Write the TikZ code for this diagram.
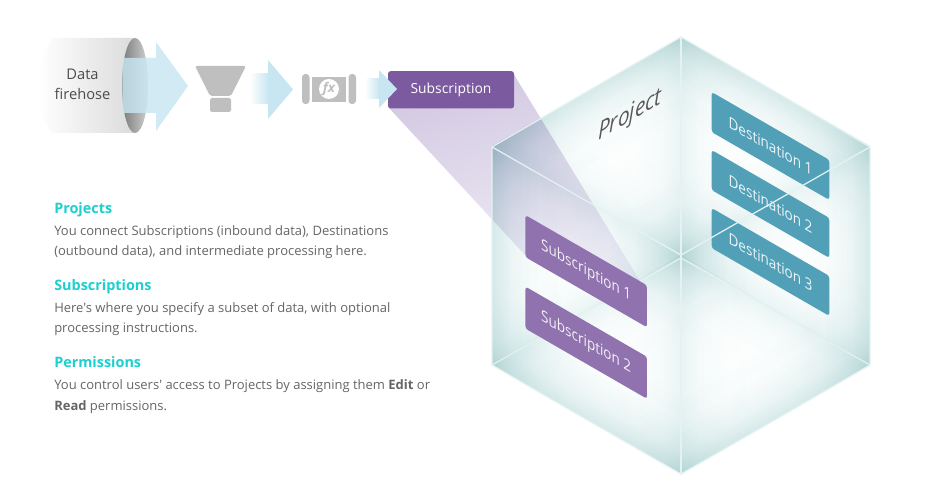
\documentclass[tikz,border=0pt]{standalone}
\usepackage{fontspec}
\setmainfont{Open Sans}[Ligatures=TeXOff]
\definecolor{arrowblue}{HTML}{C8E6F1}
\definecolor{iconGray}{HTML}{BFBFBF}
\definecolor{subPurple}{HTML}{8F72AE}
\definecolor{boxPurple}{HTML}{7C5AA0}
\definecolor{destBlue}{HTML}{52A0B8}
\definecolor{headTeal}{HTML}{1DCFCF}
\definecolor{bodyGray}{HTML}{666666}
\definecolor{edgeLine}{HTML}{E4F2F2}
\definecolor{beamA}{HTML}{D3C9E2}
\definecolor{beamB}{HTML}{F1EEF7}
\definecolor{glassEdge}{HTML}{EAF4F4}
\pgfdeclarehorizontalshading{edgefadeL}{100bp}{color(0bp)=(glassEdge); color(25bp)=(glassEdge); color(38bp)=(glassEdge!45!white); color(55bp)=(glassEdge!12!white); color(75bp)=(white); color(100bp)=(white)}
\pgfdeclarehorizontalshading{edgefadeR}{100bp}{color(0bp)=(white); color(25bp)=(white); color(45bp)=(glassEdge!12!white); color(62bp)=(glassEdge!45!white); color(75bp)=(glassEdge); color(100bp)=(glassEdge)}
\tikzset{
  x=0.75pt,y=-0.75pt,
  stripbox/.style={blend mode=multiply,draw=none},
  isobox/.style={rectangle,rounded corners=2pt,inner sep=0pt,font=\fontsize{11.7pt}{14pt}\selectfont,cm={0.866,-0.5,0,1,(0,0)}},
  subbox/.style={isobox,fill=subPurple,text=white!90!subPurple,minimum width=105.2pt,minimum height=31.5pt},
  destbox/.style={isobox,fill=destBlue,text=white!90!destBlue,minimum width=101.8pt,minimum height=30pt},
  headline/.style={anchor=base west,inner sep=0pt,text=headTeal,font=\fontsize{10.8pt}{13pt}\selectfont\bfseries},
  bodyline/.style={anchor=base west,inner sep=0pt,text=bodyGray,font=\fontsize{9.75pt}{12pt}\selectfont},
  edgeline/.style={draw=edgeLine,line width=0.9pt},
  arrowfill/.style={fill=arrowblue,draw=none},
  icon/.style={fill=iconGray,draw=none}
}
\newcommand{\glassface}[6]{%
  \pgfmathsetmacro{\ma}{#3/50}\pgfmathsetmacro{\mb}{-#4/50}%
  \pgfmathsetmacro{\mc}{#5/50}\pgfmathsetmacro{\md}{-#6/50}%
  \begin{scope}[transform canvas={cm={\ma,\mb,\mc,\md,(#1,#2)}}]
    \shade[stripbox,shading=edgefadeL] (-50,-50) rectangle (-10,50);
    \shade[stripbox,shading=edgefadeR] (10,-50) rectangle (50,50);
    \shade[stripbox,shading=edgefadeR,shading angle=90] (-50,-50) rectangle (50,-10);
    \shade[stripbox,shading=edgefadeL,shading angle=90] (-50,10) rectangle (50,50);
  \end{scope}}
\begin{document}
\begin{tikzpicture}
\useasboundingbox (0,0) rectangle (929,498);
\fill[white] (0,0) rectangle (929,498);
% vertices of the cube
\coordinate (O) at (681,37);
\coordinate (A) at (492,147);
\coordinate (B) at (870,147);
\coordinate (C) at (681,255);
\coordinate (Cb) at (681,258);
\coordinate (D) at (492,365);
\coordinate (E) at (870,365);
\coordinate (F) at (681,474);
% glass faces
\glassface{586.5}{201}{94.5}{-54.6}{0}{109}
\glassface{775.5}{201}{94.5}{54.6}{0}{109}
\glassface{681}{364.5}{94.5}{54.6}{-94.5}{54.6}
\glassface{681}{146}{94.5}{54.6}{-94.5}{54.6}
\glassface{586.5}{310.5}{94.5}{54.6}{0}{109}
\glassface{775.5}{310.5}{94.5}{-54.6}{0}{109}
% back edges
\draw[edgeline] (O) -- (C);
\draw[edgeline] (D) -- (Cb) -- (E);
% beam
\coordinate (bm1) at (389,108);
\coordinate (bm2) at (513,73);
\coordinate (bm3) at (640,281);
\coordinate (bm4) at (526,256);
\shade[top color=beamA,bottom color=beamB,shading angle=15,blend mode=multiply] (bm1) -- (bm2) -- (bm3) -- (bm4) -- cycle;
% isometric boxes
\node[subbox] (sub1) at (586.2,271.2) {Subscription 1};
\node[subbox] (sub2) at (586.2,342.7) {Subscription 2};
\node[destbox] (dest1) at (770.5,146) {Destination 1};
\node[destbox] (dest2) at (770.5,204) {Destination 2};
\node[destbox] (dest3) at (770.5,262) {Destination 3};
% front and outer edges
\draw[edgeline] (A) -- (C) -- (B);
\draw[edgeline] (C) -- (F);
\draw[edgeline,line join=round] (O) -- (B) -- (E) -- (F) -- (D) -- (A) -- cycle;
\node[inner sep=0pt,text=black!65,font=\fontsize{18pt}{20pt}\selectfont\itshape,cm={0.866,0.5,0,1,(0,0)}] (project) at (630,116) {Project};
% firehose
\shade[left color=white,right color=black!16] (52,38) -- (135,38) .. controls (142,38) and (148,59) .. (148,85.5) .. controls (148,112) and (142,133) .. (135,133) -- (52,133) .. controls (43,120) and (38,102) .. (38,85.5) .. controls (38,69) and (43,51) .. (52,38) -- cycle;
\shade[left color=black!52,right color=black!18] (135,85.5) ellipse[x radius=13,y radius=47.5];
\node[inner sep=0pt,text=black!70,align=center,font=\fontsize{11pt}{15pt}\selectfont] (hose) at (82.5,84) {Data\\firehose};
\fill[arrowfill,opacity=.82] (123,58) -- (156,58) -- (156,42) -- (188,86) -- (156,131) -- (156,113) -- (123,113) .. controls (122,95) and (122,76) .. (123,58) -- cycle;
% funnel
\fill[icon,rounded corners=1.5pt] (195,66) -- (246,66) -- (231,96) -- (210,96) -- cycle;
\fill[icon,rounded corners=1.2pt] (210,98) rectangle (231,112);
% arrow two
\shade[left color=white,right color=arrowblue,draw=none] (250,74) rectangle (268.3,104);
\fill[arrowfill] (268,60) -- (293,89.5) -- (268,119) -- cycle;
% fx icon
\fill[icon,rounded corners=2.5pt] (302,74) rectangle (309.5,104);
\fill[icon,rounded corners=2.5pt] (348.5,74) rectangle (356,104);
\fill[icon] (312,77) rectangle (346,102);
\node[circle,fill=white,minimum size=15pt,inner sep=0pt,text=iconGray,font=\fontsize{10pt}{10pt}\selectfont\bfseries\itshape] (fx) at (329,89) {fx};
% subscription box
\node[rectangle,rounded corners=2pt,fill=boxPurple,text=white,inner sep=0pt,minimum width=94.5pt,minimum height=28pt,font=\fontsize{10.4pt}{12pt}\selectfont] (subscription) at (451,89.8) {Subscription};
% arrow three
\shade[left color=white,right color=arrowblue,draw=none] (365,79) rectangle (379.3,99);
\fill[arrowfill] (379,70) -- (397,89) -- (379,108) -- cycle;
% text
\node[headline] (h1) at (54,213.5) {Projects};
\node[bodyline] (b1a) at (54,235.5) {You connect Subscriptions (inbound data), Destinations};
\node[bodyline] (b1b) at (54,256) {(outbound data), and intermediate processing here.};
\node[headline] (h2) at (54,290.5) {Subscriptions};
\node[bodyline] (b2a) at (54,312.5) {Here's where you specify a subset of data, with optional};
\node[bodyline] (b2b) at (54,333) {processing instructions.};
\node[headline] (h3) at (54,368) {Permissions};
\node[bodyline] (b3a) at (54,389.5) {You control users' access to Projects by assigning them \textbf{Edit} or};
\node[bodyline] (b3b) at (54,410.5) {\textbf{Read} permissions.};
\end{tikzpicture}
\end{document}
